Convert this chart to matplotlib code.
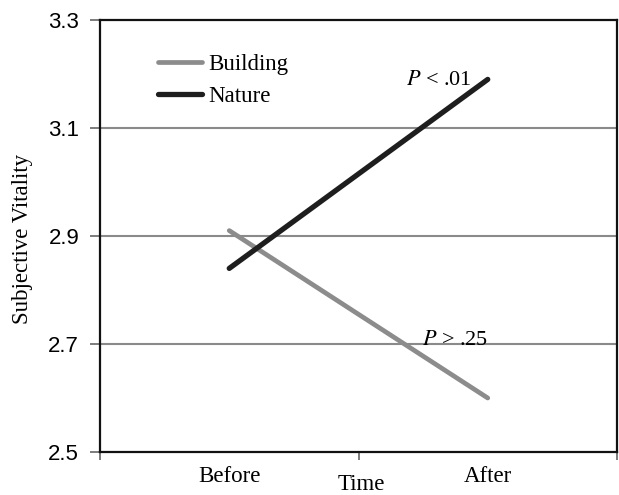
import matplotlib
matplotlib.use("Agg")
import matplotlib.pyplot as plt

times = ["Before", "After"]
building = [2.91, 2.60]
nature = [2.84, 3.19]
yticks = [2.5, 2.7, 2.9, 3.1, 3.3]

serif = ["Liberation Serif", "DejaVu Serif"]
sans = ["Liberation Sans", "DejaVu Sans"]

W, H = 619, 495
fig = plt.figure(figsize=(W/100, H/100), dpi=100)
ax = fig.add_axes([100/W, 1-452/H, 517/W, 432/H])

x = [0, 1]
ax.plot(x, building, color="#8c8c8c", lw=3.4, solid_capstyle="round", label="Building", zorder=3)
ax.plot(x, nature, color="#1e1e1e", lw=3.8, solid_capstyle="round", label="Nature", zorder=4)

ax.set_ylim(2.5, 3.3)
ax.set_yticks(yticks)
ax.set_yticklabels([f"{v:.1f}" for v in yticks], fontfamily=sans, fontsize=16)
for v in yticks[1:-1]:
    ax.axhline(v, color="#8a8a8a", lw=1.5, zorder=1)

ax.set_xlim(-0.5, 1.5)
ax.set_xticks([-0.5, 0.5, 1.5])
ax.set_xticklabels([])
ax.tick_params(axis="x", length=6, width=1.2, color="#666666")
ax.tick_params(axis="y", length=7, width=1.2, color="#666666", pad=8)
for i, t in enumerate(times):
    ax.text(x[i], -0.056, t, transform=ax.get_xaxis_transform(), ha="center", va="center",
            fontfamily=serif, fontsize=16.5)
fig.text(361/W, 1-484/H, "Time", ha="center", va="center", fontfamily=serif, fontsize=16.5)
fig.text(23/W, 1-239/H, "Subjective Vitality", ha="center", va="center", rotation=90,
         fontfamily=serif, fontsize=16.5)

for s in ax.spines.values():
    s.set_linewidth(1.6)
    s.set_color("#111111")

ax.text(0.81, 3.188, "$P$ < .01", ha="center", va="center", fontfamily=serif, fontsize=16,
        math_fontfamily="stix")
ax.text(0.875, 2.706, "$P$ > .25", ha="center", va="center", fontfamily=serif, fontsize=16,
        math_fontfamily="stix")

leg = ax.legend(loc="upper left", bbox_to_anchor=(0.095, 0.943), frameon=False,
                prop={"family": serif, "size": 16.5}, handlelength=1.9, handletextpad=0.3,
                labelspacing=0.47, borderaxespad=0)

fig.savefig("out.png", dpi=100)
